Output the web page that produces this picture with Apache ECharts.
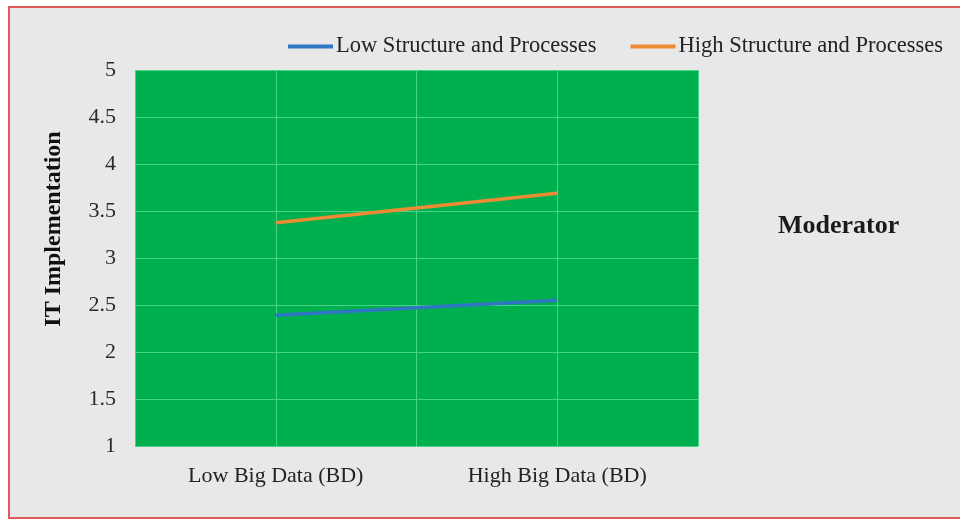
<!DOCTYPE html>
<html>
<head>
<meta charset="utf-8">
<script src="https://cdn.jsdelivr.net/npm/echarts@6/dist/echarts.min.js"></script>
<style>
html,body{margin:0;padding:0;background:#ffffff;}
#chart{width:960px;height:520px;}
</style>
</head>
<body>
<div id="chart"></div>
<script>
const categories = ["Low Big Data (BD)", "High Big Data (BD)"];
const lowStructure = [2.39, 2.55];
const highStructure = [3.375, 3.69];
const seriesNames = ["Low Structure and Processes", "High Structure and Processes"];
const yAxisTitle = "IT Implementation";
const sideLabel = "Moderator";

const serif = "'Liberation Serif', 'DejaVu Serif', serif";
const chart = echarts.init(document.getElementById('chart'));
chart.setOption({
  backgroundColor: '#ffffff',
  animation: false,
  graphic: [
    { type: 'rect', z: -10, shape: { x: 9, y: 7, width: 960, height: 511 },
      style: { fill: '#e8e8e8', stroke: '#e05a5a', lineWidth: 2 } },
    { type: 'text', x: 778, y: 226,
      style: { text: sideLabel, font: "bold 26px " + serif, fill: '#1a1a1a',
               textAlign: 'left', textVerticalAlign: 'middle' } },
    { type: 'text', x: 54, y: 229, rotation: Math.PI / 2,
      style: { text: yAxisTitle, font: "bold 24px " + serif, fill: '#111',
               textAlign: 'center', textVerticalAlign: 'middle' } }
  ],
  legend: {
    top: 30, left: 283,
    itemWidth: 45, itemHeight: 4, itemGap: 34,
    icon: 'rect',
    textStyle: { fontFamily: serif, fontSize: 22.5, color: '#222', padding: [0,0,0,-2] },
    data: seriesNames
  },
  grid: {
    left: 135, right: 262, top: 70, bottom: 74,
    show: true, backgroundColor: '#00b04f', borderWidth: 0
  },
  xAxis: [
    {
      type: 'category', data: categories, boundaryGap: true,
      axisLine: { show: false }, axisTick: { show: false },
      axisLabel: { fontFamily: serif, fontSize: 22, color: '#222', margin: 19 },
      splitLine: { show: false }
    },
    {
      type: 'value', min: 0, max: 4, interval: 1, position: 'bottom',
      axisLine: { show: false }, axisTick: { show: false }, axisLabel: { show: false },
      splitLine: { show: true, lineStyle: { color: '#45d487', width: 1 } }
    }
  ],
  yAxis: {
    type: 'value', min: 1, max: 5, interval: 0.5,
    axisLine: { show: false }, axisTick: { show: false },
    axisLabel: { fontFamily: serif, fontSize: 22, color: '#2a2a2a', margin: 19 },
    splitLine: { show: true, lineStyle: { color: '#45d487', width: 1 } }
  },
  series: [
    { name: seriesNames[0], type: 'line', data: lowStructure, xAxisIndex: 0,
      symbol: 'none', lineStyle: { color: '#2f77c4', width: 3.5 }, itemStyle: { color: '#2f77c4' } },
    { name: seriesNames[1], type: 'line', data: highStructure, xAxisIndex: 0,
      symbol: 'none', lineStyle: { color: '#ef8a35', width: 3.5 }, itemStyle: { color: '#ef8a35' } }
  ]
});
</script>
</body>
</html>
